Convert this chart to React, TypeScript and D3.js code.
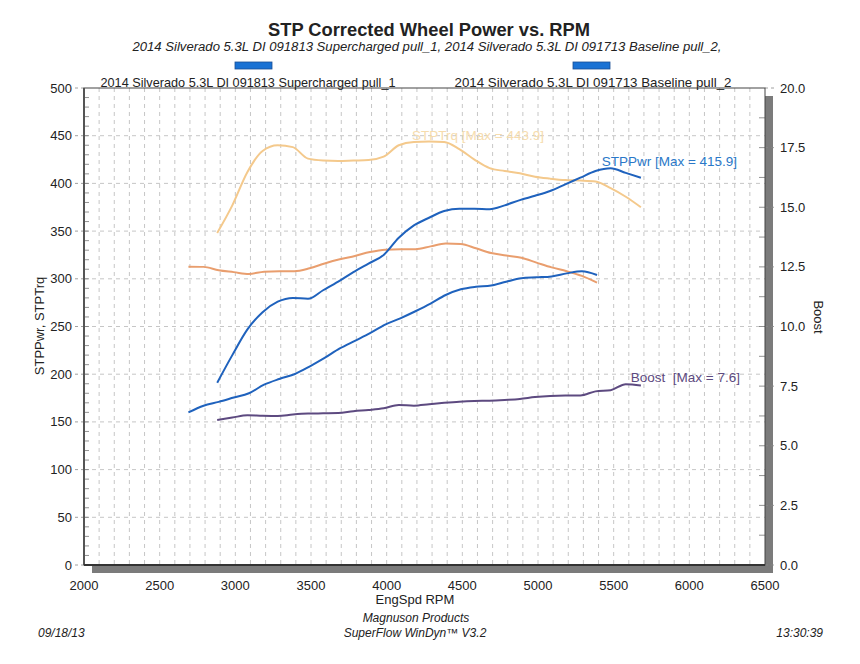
import { useEffect, useRef } from 'react'
import * as d3 from 'd3'

// Supercharged pull_1 (sampled every 100 rpm)
const superRpm = [
  2880, 2980, 3080, 3180, 3280, 3380, 3480, 3580, 3680, 3780, 3880, 3980, 4080, 4180, 4280,
  4380, 4480, 4580, 4680, 4780, 4880, 4980, 5080, 5180, 5280, 5380, 5480, 5580, 5680
]
const superTrq = [
  348, 377, 412, 434, 440, 438, 426, 424, 423.5, 424, 424.5, 428, 440, 443.5, 443.9,
  443.5, 436, 425, 416, 413, 410.6, 407, 405, 403.5, 403, 402, 395, 386, 375
]
const superPwr = [
  191, 220, 247, 265, 276, 280, 279, 288, 297, 307, 316, 325, 343, 356, 364,
  371, 373.5, 373.5, 373, 377, 382.5, 387, 392, 399, 406, 413, 415.9, 411, 406
]
const superBoost = [
  6.08, 6.18, 6.28, 6.26, 6.25, 6.31, 6.35, 6.36, 6.37, 6.45, 6.5, 6.57, 6.71, 6.68, 6.74,
  6.8, 6.85, 6.88, 6.89, 6.92, 6.96, 7.04, 7.09, 7.11, 7.11, 7.28, 7.33, 7.58, 7.53
]

// Baseline pull_2
const baseRpm = [
  2690, 2790, 2890, 2990, 3090, 3190, 3290, 3390, 3490, 3590, 3690, 3790, 3890, 3990,
  4090, 4190, 4290, 4390, 4490, 4590, 4690, 4790, 4890, 4990, 5090, 5190, 5290, 5390
]
const baseTrq = [
  312.7, 312.5, 309, 307, 305, 307.5, 308, 308, 311, 316, 320.4, 324, 328, 330.5,
  331, 331, 334, 337, 336.5, 332, 327, 324.5, 322, 317, 312, 308, 303, 296
]
const basePwr = [
  160, 167, 171, 175.5, 180, 189, 195, 200, 208, 217, 227, 235, 243, 252,
  258.6, 266, 274, 283, 289, 291.7, 293, 297, 300.5, 301.5, 302.5, 305.7, 308, 304
]

const xTicks = [2000, 2500, 3000, 3500, 4000, 4500, 5000, 5500, 6000, 6500]
const yTicks = [0, 50, 100, 150, 200, 250, 300, 350, 400, 450, 500]
const boostTicks = [0, 2.5, 5, 7.5, 10, 12.5, 15, 17.5, 20]

const title = 'STP Corrected Wheel Power vs. RPM'
const subtitle = '2014 Silverado 5.3L DI 091813 Supercharged pull_1, 2014 Silverado 5.3L DI 091713 Baseline pull_2,'
const legendNames = ['2014 Silverado 5.3L DI 091813 Supercharged pull_1', '2014 Silverado 5.3L DI 091713 Baseline pull_2']

const FONT = '"Liberation Sans", Arial, sans-serif'

export default function App() {
  const ref = useRef<SVGSVGElement>(null)

  useEffect(() => {
    if (!ref.current) return
    const svg = d3.select(ref.current)
    svg.selectAll('*').remove()

    const margin = { top: 88, left: 84 }
    const width = 681
    const height = 477

    const x = d3.scaleLinear().domain([2000, 6500]).range([margin.left, margin.left + width])
    const y = d3.scaleLinear().domain([0, 500]).range([margin.top + height, margin.top])
    const yb = d3.scaleLinear().domain([0, 20]).range([margin.top + height, margin.top])

    const bottom = margin.top + height
    const right = margin.left + width

    // shadow
    svg.append('rect').attr('x', right).attr('y', margin.top + 8).attr('width', 8).attr('height', height)
      .attr('fill', '#7b7b7b')
    svg.append('rect').attr('x', margin.left + 8).attr('y', bottom).attr('width', width).attr('height', 8)
      .attr('fill', '#7b7b7b')
    svg.append('rect').attr('x', margin.left).attr('y', margin.top).attr('width', width).attr('height', height)
      .attr('fill', '#fff')

    // grid
    const grid = svg.append('g').attr('stroke', '#b8b8b8').attr('stroke-width', 0.8).attr('stroke-dasharray', '4,4')
    d3.range(2100, 6500, 100).forEach(r => {
      grid.append('line').attr('x1', x(r)).attr('x2', x(r)).attr('y1', margin.top).attr('y2', bottom)
    })
    yTicks.slice(1, -1).forEach(v => {
      grid.append('line').attr('x1', margin.left).attr('x2', right).attr('y1', y(v)).attr('y2', y(v))
    })

    // minor ticks
    const minor = svg.append('g').attr('stroke', '#777').attr('stroke-width', 0.8)
    d3.range(10, 500, 10).forEach(v => {
      minor.append('line').attr('x1', margin.left).attr('x2', margin.left + 5).attr('y1', y(v)).attr('y2', y(v))
    })
    d3.range(1.25, 20, 1.25).forEach(v => {
      minor.append('line').attr('x1', right - 6).attr('x2', right).attr('y1', yb(v)).attr('y2', yb(v))
    })

    // major ticks (dashed outside)
    const major = svg.append('g').attr('stroke', '#888').attr('stroke-width', 0.8).attr('stroke-dasharray', '3,3')
    yTicks.forEach(v => {
      major.append('line').attr('x1', margin.left - 9).attr('x2', margin.left).attr('y1', y(v)).attr('y2', y(v))
    })
    boostTicks.forEach(v => {
      major.append('line').attr('x1', right).attr('x2', right + 12).attr('y1', yb(v)).attr('y2', yb(v))
    })

    // frame
    svg.append('rect').attr('x', margin.left).attr('y', margin.top).attr('width', width).attr('height', height)
      .attr('fill', 'none').attr('stroke', '#444').attr('stroke-width', 1)
    svg.append('line').attr('x1', margin.left).attr('x2', margin.left).attr('y1', margin.top).attr('y2', bottom)
      .attr('stroke', '#555').attr('stroke-width', 2)
    svg.append('line').attr('x1', margin.left).attr('x2', right).attr('y1', bottom).attr('y2', bottom)
      .attr('stroke', '#333').attr('stroke-width', 2)

    // lines
    const line = (xs: number[], ys: number[], sy: d3.ScaleLinear<number, number>) =>
      d3.line<number>().x((_, i) => x(xs[i])).y(d => sy(d)).curve(d3.curveMonotoneX)(ys)

    const series = [
      { xs: superRpm, ys: superTrq, sy: y, color: '#f4c98c' },
      { xs: baseRpm, ys: baseTrq, sy: y, color: '#e99e6e' },
      { xs: superRpm, ys: superPwr, sy: y, color: '#1f62bd' },
      { xs: baseRpm, ys: basePwr, sy: y, color: '#1f62bd' },
      { xs: superRpm, ys: superBoost, sy: yb, color: '#5d4a80' }
    ]
    series.forEach(s => {
      svg.append('path').attr('d', line(s.xs, s.ys, s.sy)).attr('fill', 'none')
        .attr('stroke', s.color).attr('stroke-width', 2).attr('stroke-linejoin', 'round')
    })

    // max labels
    const maxLabel = (xs: number[], ys: number[], sy: d3.ScaleLinear<number, number>, text: string,
      dx: number, dy: number, color: string) => {
      const i = d3.maxIndex(ys)
      svg.append('text').attr('x', x(xs[i]) + dx).attr('y', sy(ys[i]) + dy)
        .attr('fill', color).attr('font-size', 13.5).attr('font-family', FONT)
        .style('white-space', 'pre').text(text)
    }
    maxLabel(superRpm, superTrq, y, `STPTrq [Max = ${d3.max(superTrq)!.toFixed(1)}]`, -17, -2, '#f6dcae')
    maxLabel(superRpm, superPwr, y, `STPPwr [Max = ${d3.max(superPwr)!.toFixed(1)}]`, -9, -2, '#2a78c8')
    maxLabel(superRpm, superBoost, yb, `Boost  [Max = ${d3.max(superBoost)!.toFixed(1)}]`, 5, -2, '#5d4a80')

    // axis labels
    const txt = svg.append('g').attr('font-family', FONT).attr('fill', '#222')
    yTicks.forEach(v => {
      txt.append('text').attr('x', 72).attr('y', y(v)).attr('dy', '0.35em').attr('text-anchor', 'end')
        .attr('font-size', 13).text(v)
    })
    boostTicks.forEach(v => {
      txt.append('text').attr('x', right + 15).attr('y', yb(v)).attr('dy', '0.35em')
        .attr('font-size', 13).text(v.toFixed(1))
    })
    xTicks.forEach(v => {
      txt.append('text').attr('x', x(v)).attr('y', bottom + 20).attr('dy', '0.35em').attr('text-anchor', 'middle')
        .attr('font-size', 13).text(v)
    })
    txt.append('text').attr('x', 415).attr('y', 604).attr('text-anchor', 'middle').attr('font-size', 13)
      .text('EngSpd RPM')
    txt.append('text').attr('transform', 'translate(44,326) rotate(-90)').attr('text-anchor', 'middle')
      .attr('font-size', 13).text('STPPwr, STPTrq')
    txt.append('text').attr('transform', 'translate(814,317) rotate(90)').attr('text-anchor', 'middle')
      .attr('font-size', 13).text('Boost')

    // title
    txt.append('text').attr('x', 429).attr('y', 36).attr('text-anchor', 'middle').attr('font-size', 18)
      .attr('font-weight', 'bold').attr('textLength', 322).attr('lengthAdjust', 'spacingAndGlyphs').text(title)
    txt.append('text').attr('x', 427).attr('y', 51).attr('text-anchor', 'middle').attr('font-size', 12.5)
      .attr('font-style', 'italic').attr('textLength', 589).attr('lengthAdjust', 'spacingAndGlyphs').text(subtitle)

    // legend
    const legendX = [248, 593]
    const legendW = [295, 277]
    const swatchX = [235, 573]
    legendNames.forEach((name, i) => {
      svg.append('rect').attr('x', swatchX[i]).attr('y', 62).attr('width', 37).attr('height', 7)
        .attr('fill', '#1a72d4').attr('stroke', '#1a4f95').attr('stroke-width', 0.8)
      txt.append('text').attr('x', legendX[i]).attr('y', 87).attr('text-anchor', 'middle').attr('font-size', 13)
        .attr('textLength', legendW[i]).attr('lengthAdjust', 'spacingAndGlyphs').text(name)
    })

    // footer
    const foot = svg.append('g').attr('font-family', FONT).attr('fill', '#222').attr('font-style', 'italic')
      .attr('font-size', 12)
    foot.append('text').attr('x', 416).attr('y', 622).attr('text-anchor', 'middle').text('Magnuson Products')
    foot.append('text').attr('x', 415).attr('y', 637).attr('text-anchor', 'middle').text('SuperFlow WinDyn™ V3.2')
    foot.append('text').attr('x', 38).attr('y', 637).text('09/18/13')
    foot.append('text').attr('x', 823).attr('y', 637).attr('text-anchor', 'end').text('13:30:39')
  }, [])

  return (
    <svg ref={ref} width={860} height={664}
      style={{ position: 'absolute', left: 0, top: 0, background: '#fff' }} />
  )
}
